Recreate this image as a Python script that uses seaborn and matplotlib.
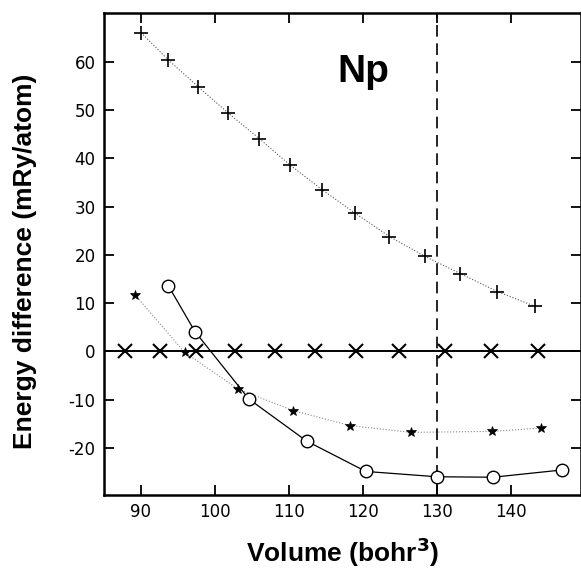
import matplotlib
matplotlib.use("Agg")
import matplotlib.pyplot as plt
import seaborn as sns

# Volumes (bohr^3) and energy differences (mRy/atom)
plus_vol = [90.0, 93.7, 97.7, 101.8, 106.0, 110.1, 114.5, 118.9, 123.6, 128.4, 133.2, 138.2, 143.3]
plus_en = [66.1, 60.4, 54.9, 49.4, 44.1, 38.7, 33.5, 28.7, 23.8, 19.7, 16.1, 12.4, 9.3]

cross_vol = [87.8, 92.6, 97.5, 102.7, 108.1, 113.5, 119.1, 124.9, 131.1, 137.3, 143.7]
cross_en = [0.0] * len(cross_vol)

star_vol = [89.2, 95.9, 103.1, 110.6, 118.3, 126.5, 137.5, 144.1]
star_en = [11.7, -0.2, -7.8, -12.3, -15.4, -16.8, -16.6, -15.9]

circ_vol = [93.7, 97.3, 104.6, 112.4, 120.4, 130.0, 137.6, 146.9]
circ_en = [13.6, 4.1, -9.9, -18.6, -24.9, -26.0, -26.1, -24.6]

eq_volume = 130.0
xticks = [90, 100, 110, 120, 130, 140]
yticks = [-20, -10, 0, 10, 20, 30, 40, 50, 60]

sns.set_style("ticks")
plt.rcParams['font.family'] = ['Liberation Sans', 'DejaVu Sans']
plt.rcParams['axes.unicode_minus'] = False
plt.rcParams['text.color'] = 'black'
plt.rcParams['axes.labelcolor'] = 'black'
plt.rcParams['axes.edgecolor'] = 'black'
plt.rcParams['xtick.color'] = 'black'
plt.rcParams['ytick.color'] = 'black'

fig = plt.figure(figsize=(5.81, 5.75), dpi=100)
ax = fig.add_axes([0.179, 0.139, 0.821, 0.838])

# fitted curves
sns.lineplot(x=plus_vol, y=plus_en, ax=ax, color='#555555', lw=0.8, linestyle=':', sort=True)
sns.lineplot(x=star_vol, y=star_en, ax=ax, color='#888888', lw=0.8, linestyle=':', sort=True)
sns.lineplot(x=circ_vol, y=circ_en, ax=ax, color='black', lw=0.9, sort=True)

# reference line and markers
ax.axhline(0, color='black', lw=1.4)
ax.axvline(eq_volume, color='black', lw=1.2, linestyle=(0, (7, 4)))
ax.plot(plus_vol, plus_en, linestyle='none', marker='+', ms=10, mew=1.2, color='black')
ax.plot(cross_vol, cross_en, linestyle='none', marker='x', ms=10, mew=1.5, color='black')
ax.plot(star_vol, star_en, linestyle='none', marker='*', ms=7, mew=0.5, color='black')
ax.plot(circ_vol, circ_en, linestyle='none', marker='o', ms=9, mew=1.0,
        markerfacecolor='white', markeredgecolor='black')

ax.text(120, 58, 'Np', fontsize=28, fontweight='bold', ha='center', va='center')

ax.set_xlim(85, 149.5)
ax.set_ylim(-29.8, 70.1)
ax.set_xticks(xticks)
ax.set_yticks(yticks)
ax.tick_params(direction='in', length=7, width=1.3, labelsize=12, pad=6,
               top=True, right=True)
for lbl in ax.get_xticklabels() + ax.get_yticklabels():
    lbl.set_fontfamily('DejaVu Sans')
for s in ax.spines.values():
    s.set_linewidth(1.8)

ax.set_xlabel('Volume (bohr$^\\mathbf{3}$)', fontsize=19, fontweight='bold', labelpad=10)
ax.set_ylabel('Energy difference (mRy/atom)', fontsize=19, fontweight='bold')
ax.yaxis.set_label_coords(-0.141, 0.485)

fig.savefig('out.png', dpi=100)
